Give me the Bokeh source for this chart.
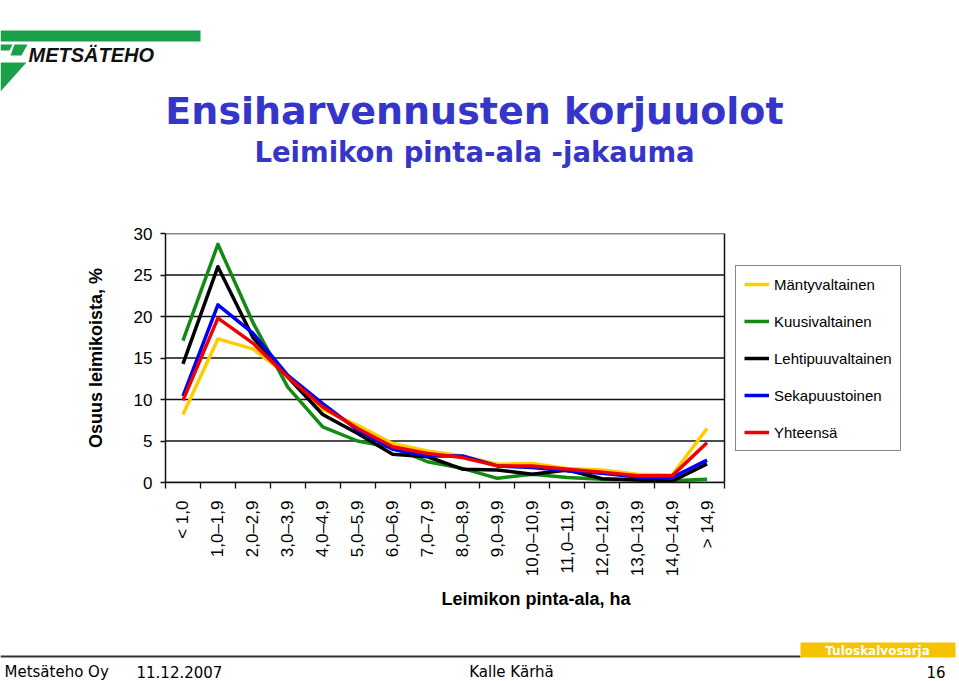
import math
from bokeh.plotting import figure
from bokeh.models import Range1d, FixedTicker, Legend, LegendItem, ColumnDataSource
from bokeh.core.properties import value
from bokeh.embed import file_html
from bokeh.resources import INLINE

# ---------------- data ----------------
categories = ["< 1,0", "1,0\u20131,9", "2,0\u20132,9", "3,0\u20133,9", "4,0\u20134,9",
              "5,0\u20135,9", "6,0\u20136,9", "7,0\u20137,9", "8,0\u20138,9", "9,0\u20139,9",
              "10,0\u201310,9", "11,0\u201311,9", "12,0\u201312,9", "13,0\u201313,9",
              "14,0\u201314,9", "> 14,9"]
mantyvaltainen = [8.2, 17.3, 16.1, 12.9, 8.8, 6.9, 4.7, 3.8, 3.2, 2.2, 2.3, 1.7, 1.5, 1.0, 0.9, 6.5]
kuusivaltainen = [17.1, 28.7, 19.3, 11.5, 6.7, 5.0, 4.2, 2.5, 1.7, 0.5, 1.0, 0.6, 0.4, 0.35, 0.2, 0.4]
lehtipuuvaltainen = [14.3, 26.0, 17.5, 12.7, 8.2, 5.9, 3.4, 3.1, 1.6, 1.5, 1.0, 1.5, 0.45, 0.3, 0.15, 2.25]
sekapuustoinen = [10.4, 21.4, 18.0, 12.9, 9.5, 6.3, 4.0, 3.2, 3.2, 2.0, 1.8, 1.4, 1.1, 0.65, 0.6, 2.7]
yhteensa = [9.9, 19.8, 16.8, 12.7, 9.1, 6.5, 4.3, 3.5, 3.0, 2.0, 2.0, 1.6, 1.25, 0.8, 0.8, 4.8]
series_names = ["Mäntyvaltainen", "Kuusivaltainen", "Lehtipuuvaltainen", "Sekapuustoinen", "Yhteensä"]
y_ticks = [0, 5, 10, 15, 20, 25, 30]

title_text = "Ensiharvennusten korjuuolot"
subtitle_text = "Leimikon pinta-ala -jakauma"
x_label = "Leimikon pinta-ala, ha"
y_label = "Osuus leimikoista, %"
logo_text = "METSÄTEHO"
footer_left = ["Metsäteho Oy", "11.12.2007"]
footer_center = "Kalle Kärhä"
footer_right = "16"
series_tag = "Tuloskalvosarja"

# ---------------- styles ----------------
colors = ["#FFCC00", "#138A13", "#000000", "#0000F0", "#F00000"]
TITLE_BLUE = "#3535C9"
LOGO_GREEN = "#1BA04A"
ARIAL = "Liberation Sans"
W = 959

# page layout (pixels): header 0..223, chart 223..625, footer 625..681
HEAD_H, CHART_H, FOOT_H = 223, 402, 56
FRAME_L, FRAME_R_DATA, FRAME_R = 165, 724, 906     # chart data area 165..724, legend up to 906


def blank(height, y0):
    f = figure(width=W, height=height, x_range=Range1d(0, W), y_range=Range1d(y0 + height, y0),
               toolbar_location=None, output_backend="svg", min_border=0,
               x_axis_location=None, y_axis_location=None)
    f.grid.visible = False
    f.outline_line_color = None
    f.background_fill_color = "white"
    f.border_fill_color = "white"
    return f


# ---------------- header ----------------
h = blank(HEAD_H, 0)
h.patches([[0, 200, 200, 0], [0, 26, 0], [0, 12, 9, 0], [14, 27, 21, 10]],
          [[30, 30, 41, 41], [62, 62, 91], [44, 44, 50, 50], [44, 44, 55, 55]],
          fill_color=LOGO_GREEN, line_color=None)
h.text(x=[28], y=[54], text=[logo_text], text_font=value(ARIAL), text_font_style="bold italic",
       text_font_size="20px", text_color="#111111", text_baseline="middle", text_align="left")
h.text(x=[474], y=[110], text=[title_text], text_font=value("DejaVu Sans"), text_font_style="bold",
       text_font_size="38px", text_color=TITLE_BLUE, text_align="center", text_baseline="middle")
h.text(x=[474], y=[151], text=[subtitle_text], text_font=value("DejaVu Sans"), text_font_style="bold",
       text_font_size="27.5px", text_color=TITLE_BLUE, text_align="center", text_baseline="middle")

# ---------------- chart ----------------
n = len(categories)
x_end = n * (FRAME_R - FRAME_L) / (FRAME_R_DATA - FRAME_L)
p = figure(width=W, height=CHART_H, x_range=Range1d(0, x_end), y_range=Range1d(0, 30),
           toolbar_location=None, output_backend="svg",
           min_border_left=FRAME_L, min_border_right=W - FRAME_R,
           min_border_top=233 - HEAD_H, min_border_bottom=HEAD_H + CHART_H - 482)
p.background_fill_color = "white"
p.border_fill_color = "white"
p.outline_line_color = None
p.xgrid.visible = False
p.ygrid.visible = False

# horizontal gridlines and right border of the plot area
p.segment(x0=[0] * len(y_ticks), x1=[n] * len(y_ticks), y0=y_ticks, y1=y_ticks,
          line_color="#111111", line_width=1.3)
p.segment(x0=[n], x1=[n], y0=[y_ticks[0]], y1=[y_ticks[-1]], line_color="#111111", line_width=1.5)

xs = [i + 0.5 for i in range(n)]
all_series = [mantyvaltainen, kuusivaltainen, lehtipuuvaltainen, sekapuustoinen, yhteensa]
items = []
for name, vals, col in zip(series_names, all_series, colors):
    src = ColumnDataSource(dict(x=xs, y=vals))
    r = p.line("x", "y", source=src, line_color=col, line_width=3.5, line_join="round")
    items.append(LegendItem(label=name, renderers=[r]))

xa = p.xaxis[0]
xa.ticker = FixedTicker(ticks=xs, minor_ticks=list(range(n + 1)))
xa.bounds = (0, n)
xa.major_label_overrides = {x: c for x, c in zip(xs, categories)}
xa.major_tick_out = 0
xa.major_tick_in = 0
xa.minor_tick_out = 6
xa.minor_tick_in = 0
xa.minor_tick_line_color = "#111111"
xa.minor_tick_line_width = 1.3
xa.major_label_orientation = math.pi / 2
xa.major_label_standoff = 12
xa.major_label_text_font = ARIAL
xa.major_label_text_font_size = "17px"
xa.major_label_text_color = "black"
xa.axis_line_color = "#111111"
xa.axis_line_width = 1.5
xa.axis_label = x_label
xa.axis_label_text_font = ARIAL
xa.axis_label_text_font_size = "18px"
xa.axis_label_text_font_style = "bold"
xa.axis_label_text_color = "black"
xa.axis_label_standoff = 10

ya = p.yaxis[0]
ya.ticker = FixedTicker(ticks=y_ticks)
ya.major_tick_out = 5
ya.major_tick_in = 0
ya.minor_tick_out = 0
ya.minor_tick_in = 0
ya.major_tick_line_color = "#111111"
ya.major_tick_line_width = 1.3
ya.major_label_standoff = 8
ya.major_label_text_font = ARIAL
ya.major_label_text_font_size = "17px"
ya.major_label_text_color = "black"
ya.axis_line_color = "#111111"
ya.axis_line_width = 1.5
ya.axis_label = y_label
ya.axis_label_text_font = ARIAL
ya.axis_label_text_font_size = "18px"
ya.axis_label_text_font_style = "bold"
ya.axis_label_text_color = "black"
ya.axis_label_standoff = 25

legend = Legend(items=items, location=(735 - FRAME_L, 482 - 451), border_line_color="#111111",
                border_line_width=1, padding=8, spacing=17, glyph_width=25, glyph_height=20,
                label_height=20, label_standoff=5, label_text_font=ARIAL, label_text_font_size="15px",
                label_text_color="black", margin=0, background_fill_color="white",
                background_fill_alpha=1)
p.add_layout(legend, "center")

# ---------------- footer ----------------
f = blank(FOOT_H, HEAD_H + CHART_H)
f.quad(left=[0], right=[800], top=[655], bottom=[657], fill_color="#333333", line_color=None)
f.quad(left=[800], right=[955], top=[642], bottom=[657], fill_color="#F5C300", line_color=None)
f.text(x=[877], y=[650], text=[series_tag], text_font=value("DejaVu Sans"), text_font_style="bold",
       text_font_size="12px", text_color="white", text_align="center", text_baseline="middle")
f.text(x=[4, 136], y=[671, 671], text=footer_left, text_font=value("DejaVu Sans"),
       text_font_size="15px", text_color="black", text_align="left", text_baseline="middle")
f.text(x=[511], y=[671], text=[footer_center], text_font=value("DejaVu Sans"),
       text_font_size="15px", text_color="black", text_align="center", text_baseline="middle")
f.text(x=[945], y=[671], text=[footer_right], text_font=value("DejaVu Sans"),
       text_font_size="15px", text_color="black", text_align="right", text_baseline="middle")

open("out.html", "w").write(file_html([h, p, f], INLINE))
